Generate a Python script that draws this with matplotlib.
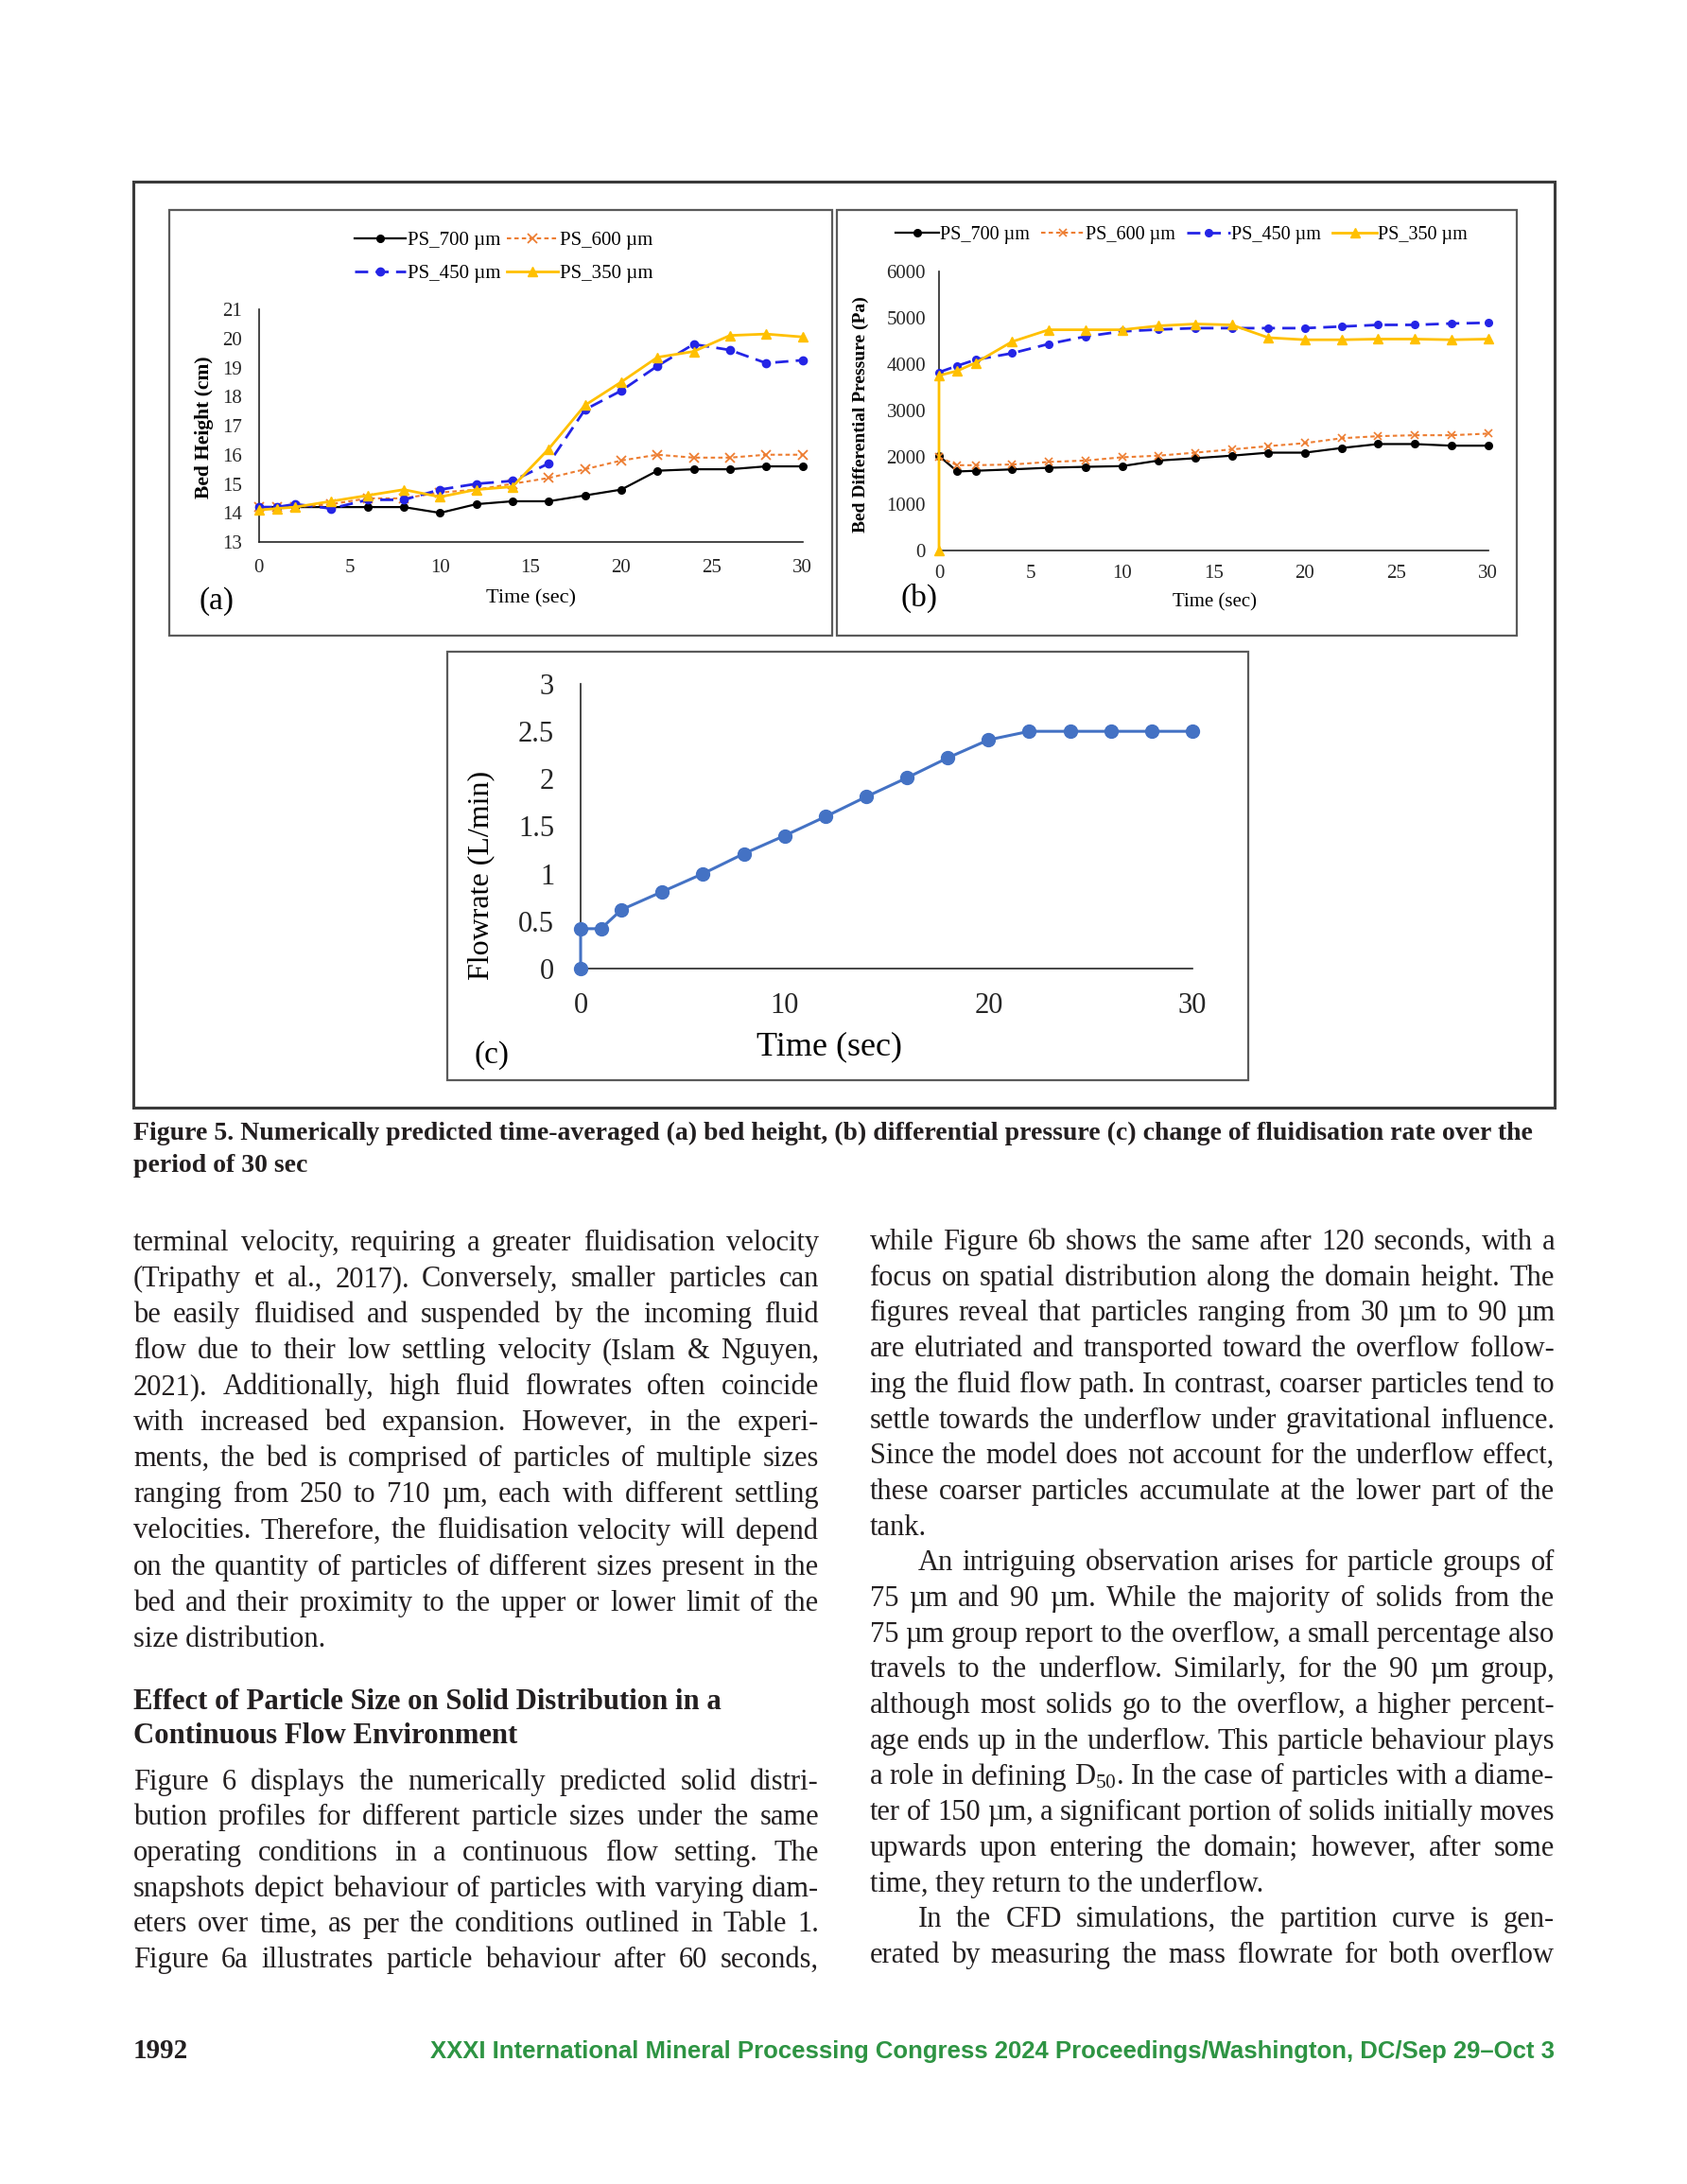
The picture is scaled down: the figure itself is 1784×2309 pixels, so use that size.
import matplotlib
matplotlib.use("Agg")
import matplotlib.pyplot as plt
from matplotlib.patches import Rectangle
from matplotlib import font_manager

W, H = 1784, 2309

# ---- data ----
time_ab = [0, 1, 2, 4, 6, 8, 10, 12, 14, 16, 18, 20, 22, 24, 26, 28, 30]

# (a) bed height, cm
h700 = [14.2, 14.2, 14.2, 14.2, 14.2, 14.2, 14.0, 14.3, 14.4, 14.4, 14.6, 14.8, 15.45, 15.5, 15.5, 15.6, 15.6]
h600 = [14.2, 14.2, 14.2, 14.3, 14.5, 14.5, 14.7, 14.8, 15.0, 15.2, 15.5, 15.8, 16.0, 15.9, 15.9, 16.0, 16.0]
h450 = [14.2, 14.2, 14.3, 14.15, 14.45, 14.45, 14.8, 15.0, 15.1, 15.7, 17.55, 18.2, 19.05, 19.8, 19.6, 19.15, 19.25]
h350 = [14.1, 14.15, 14.2, 14.4, 14.6, 14.8, 14.55, 14.8, 14.9, 16.2, 17.7, 18.5, 19.35, 19.55, 20.1, 20.15, 20.05]

# (b) bed differential pressure, Pa
p700 = [2030, 1695, 1710, 1740, 1775, 1795, 1810, 1930, 1980, 2035, 2100, 2100, 2200, 2285, 2285, 2250, 2250]
p600 = [2000, 1830, 1830, 1845, 1900, 1930, 2000, 2035, 2100, 2170, 2240, 2305, 2410, 2455, 2475, 2475, 2510]
p450 = [3830, 3970, 4100, 4240, 4440, 4600, 4710, 4750, 4780, 4780, 4780, 4780, 4815, 4850, 4850, 4880, 4895]
time_b350 = [0, 0, 1, 2, 4, 6, 8, 10, 12, 14, 16, 18, 20, 22, 24, 26, 28, 30]
p350 = [0, 3760, 3860, 4035, 4490, 4745, 4745, 4745, 4830, 4870, 4850, 4575, 4530, 4530, 4545, 4545, 4530, 4545]

# (c) flowrate, L/min
time_c = [0, 0, 1, 2, 4, 6, 8, 10, 12, 14, 16, 18, 20, 22, 24, 26, 28, 30]
flow = [0, 0.42, 0.42, 0.62, 0.81, 1.0, 1.21, 1.40, 1.60, 1.81, 2.01, 2.22, 2.41, 2.5, 2.5, 2.5, 2.5, 2.5]

series_labels = ["PS_700 µm", "PS_600 µm", "PS_450 µm", "PS_350 µm"]

caption = ["Figure 5. Numerically predicted time-averaged (a) bed height, (b) differential pressure (c) change of fluidisation rate over the",
           "period of 30 sec"]

# (text, justified, indent)
left_col = [
    ("terminal velocity, requiring a greater fluidisation velocity", True, 0),
    ("(Tripathy et al., 2017). Conversely, smaller particles can", True, 0),
    ("be easily fluidised and suspended by the incoming fluid", True, 0),
    ("flow due to their low settling velocity (Islam & Nguyen,", True, 0),
    ("2021). Additionally, high fluid flowrates often coincide", True, 0),
    ("with increased bed expansion. However, in the experi-", True, 0),
    ("ments, the bed is comprised of particles of multiple sizes", True, 0),
    ("ranging from 250 to 710 µm, each with different settling", True, 0),
    ("velocities. Therefore, the fluidisation velocity will depend", True, 0),
    ("on the quantity of particles of different sizes present in the", True, 0),
    ("bed and their proximity to the upper or lower limit of the", True, 0),
    ("size distribution.", False, 0),
]
heading = ["Effect of Particle Size on Solid Distribution in a",
           "Continuous Flow Environment"]
left_col2 = [
    ("Figure 6 displays the numerically predicted solid distri-", True, 0),
    ("bution profiles for different particle sizes under the same", True, 0),
    ("operating conditions in a continuous flow setting. The", True, 0),
    ("snapshots depict behaviour of particles with varying diam-", True, 0),
    ("eters over time, as per the conditions outlined in Table 1.", True, 0),
    ("Figure 6a illustrates particle behaviour after 60 seconds,", True, 0),
]
right_col = [
    ("while Figure 6b shows the same after 120 seconds, with a", True, 0),
    ("focus on spatial distribution along the domain height. The", True, 0),
    ("figures reveal that particles ranging from 30 µm to 90 µm", True, 0),
    ("are elutriated and transported toward the overflow follow-", True, 0),
    ("ing the fluid flow path. In contrast, coarser particles tend to", True, 0),
    ("settle towards the underflow under gravitational influence.", True, 0),
    ("Since the model does not account for the underflow effect,", True, 0),
    ("these coarser particles accumulate at the lower part of the", True, 0),
    ("tank.", False, 0),
    ("An intriguing observation arises for particle groups of", True, 51),
    ("75 µm and 90 µm. While the majority of solids from the", True, 0),
    ("75 µm group report to the overflow, a small percentage also", True, 0),
    ("travels to the underflow. Similarly, for the 90 µm group,", True, 0),
    ("although most solids go to the overflow, a higher percent-", True, 0),
    ("age ends up in the underflow. This particle behaviour plays", True, 0),
    ("a role in defining D$_{50}$. In the case of particles with a diame-", True, 0),
    ("ter of 150 µm, a significant portion of solids initially moves", True, 0),
    ("upwards upon entering the domain; however, after some", True, 0),
    ("time, they return to the underflow.", False, 0),
    ("In the CFD simulations, the partition curve is gen-", True, 51),
    ("erated by measuring the mass flowrate for both overflow", True, 0),
]
footer = "XXXI International Mineral Processing Congress 2024 Proceedings/Washington, DC/Sep 29–Oct 3"

plt.rcParams['font.family'] = ['Liberation Serif', 'DejaVu Serif']
plt.rcParams['mathtext.fontset'] = 'custom'
plt.rcParams['mathtext.rm'] = 'Liberation Serif'
plt.rcParams['mathtext.it'] = 'Liberation Serif:italic'

fig = plt.figure(figsize=(W / 100, H / 100), dpi=100)
renderer = fig.canvas.get_renderer()


def fx(px):
    return px / W


def fy(py):
    return 1 - py / H


def add_ax(x0, y0, x1, y1):
    return fig.add_axes([fx(x0), fy(y1), (x1 - x0) / W, (y1 - y0) / H])


def box(x0, y0, x1, y1, lw, color):
    fig.add_artist(Rectangle((fx(x0), fy(y1)), (x1 - x0) / W, (y1 - y0) / H,
                             transform=fig.transFigure, fill=False, lw=lw, ec=color))


def style(ax, size, xpad, ypad):
    for s in ['top', 'right']:
        ax.spines[s].set_visible(False)
    for s in ['left', 'bottom']:
        ax.spines[s].set_color('#262626')
        ax.spines[s].set_linewidth(1.2)
    ax.tick_params(length=0, labelsize=size, colors='#262626')
    ax.tick_params(axis='x', pad=xpad)
    ax.tick_params(axis='y', pad=ypad)
    ax.set_facecolor('none')


def place_labels(ax, bx, xl, yl, size_x, size_y, weight_y='normal'):
    x0, y0, x1, y1 = bx
    ax.set_xlabel(xl[0], fontsize=size_x, va='center', ha='center')
    ax.xaxis.set_label_coords((xl[1] - x0) / (x1 - x0), (y1 - xl[2]) / (y1 - y0))
    ax.set_ylabel(yl[0], fontsize=size_y, va='center', ha='center', fontweight=weight_y)
    ax.yaxis.set_label_coords((yl[1] - x0) / (x1 - x0), (y1 - yl[2]) / (y1 - y0))


# frames
box(141, 192, 1644, 1171, 2.2, '#3a3a3a')
box(179, 222, 880, 672, 1.6, '#5a5a5a')
box(885, 222, 1604, 672, 1.6, '#5a5a5a')
box(473, 689, 1320, 1142, 1.6, '#5a5a5a')

blue = '#2424E6'
orange = '#ED7D31'
gold = '#FFC000'

# ---- panel (a) ----
bx_a = (273.7, 327, 848.5, 573)
ax_a = add_ax(*bx_a)
l7, = ax_a.plot(time_ab, h700, color='black', lw=1.6, marker='o', ms=5.5, clip_on=False, zorder=3)
l6, = ax_a.plot(time_ab, h600, color=orange, lw=1.5, dashes=(2.2, 1.6), marker='x', ms=6.5, mew=1.3, clip_on=False, zorder=3)
l4, = ax_a.plot(time_ab, h450, color=blue, lw=2.0, dashes=(5, 2.8), marker='o', ms=6, clip_on=False, zorder=4)
l3, = ax_a.plot(time_ab, h350, color=gold, lw=2.0, marker='^', ms=7.5, clip_on=False, zorder=5)
ax_a.set_xlim(0, 30)
ax_a.set_ylim(13, 21)
ax_a.set_xticks(range(0, 31, 5))
ax_a.set_yticks(range(13, 22))
style(ax_a, 15, 13, 13)
place_labels(ax_a, bx_a, ("Time (sec)", 562, 633), ("Bed Height (cm)", 216, 452), 16, 15.5, 'bold')
ax_a.legend([l7, l4, l6, l3], [series_labels[0], series_labels[2], series_labels[1], series_labels[3]],
            ncol=2, loc='center', bbox_to_anchor=(fx(533), fy(272)), bbox_transform=fig.transFigure,
            frameon=False, fontsize=15, handlelength=2.6, handletextpad=0.1, columnspacing=0.3,
            labelspacing=0.75, borderaxespad=0)
fig.text(fx(229), fy(636), "(a)", fontsize=24, ha='center', va='center')

# ---- panel (b) ----
bx_b = (993, 287, 1573.5, 581.7)
ax_b = add_ax(*bx_b)
m7, = ax_b.plot(time_ab, p700, color='black', lw=1.6, marker='o', ms=5.5, clip_on=False, zorder=3)
m6, = ax_b.plot(time_ab, p600, color=orange, lw=1.5, dashes=(2.2, 1.6), marker='x', ms=6, mew=1.2, clip_on=False, zorder=3)
m4, = ax_b.plot(time_ab, p450, color=blue, lw=2.0, dashes=(5, 2.8), marker='o', ms=5.5, clip_on=False, zorder=4)
m3, = ax_b.plot(time_b350, p350, color=gold, lw=2.0, marker='^', ms=7, clip_on=False, zorder=5)
ax_b.set_xlim(0, 30)
ax_b.set_ylim(0, 6000)
ax_b.set_xticks(range(0, 31, 5))
ax_b.set_yticks(range(0, 6001, 1000))
style(ax_b, 15, 11, 10)
place_labels(ax_b, bx_b, ("Time (sec)", 1284, 637), ("Bed Differential Pressure (Pa)", 910, 438), 15, 14, 'bold')
ax_b.legend([m7, m6, m4, m3], series_labels, ncol=4, loc='center',
            bbox_to_anchor=(fx(1249), fy(248)), bbox_transform=fig.transFigure,
            frameon=False, fontsize=14.5, handlelength=2.3, handletextpad=0.05, columnspacing=0.6,
            borderaxespad=0)
fig.text(fx(972), fy(632), "(b)", fontsize=24, ha='center', va='center')

# ---- panel (c) ----
bx_c = (614, 723, 1261, 1024)
ax_c = add_ax(*bx_c)
ax_c.plot(time_c, flow, color='#4472C4', lw=2.2, marker='o', ms=10, clip_on=False, zorder=3)
ax_c.set_xlim(0, 30)
ax_c.set_ylim(0, 3)
ax_c.set_xticks([0, 10, 20, 30])
ax_c.set_yticks([0, 0.5, 1, 1.5, 2, 2.5, 3])
ax_c.set_yticklabels(["0", "0.5", "1", "1.5", "2", "2.5", "3"])
style(ax_c, 22, 18, 20)
place_labels(ax_c, bx_c, ("Time (sec)", 877, 1107), ("Flowrate (L/min)", 509, 925), 26, 23)
fig.text(fx(520), fy(1116), "(c)", fontsize=24, ha='center', va='center')


# ---- text helpers ----
def width_of(s, **kw):
    t = fig.text(0, 0, s, **kw)
    w = t.get_window_extent(renderer).width
    t.remove()
    return w


def fit_size(s, target, base=20, **kw):
    return base * target / width_of(s, fontsize=base, **kw)


def draw_lines(lines, x0, x1, y0, dy, size, **kw):
    for i, (txt, just, indent) in enumerate(lines):
        y = y0 + i * dy
        xs = x0 + indent
        if not just:
            fig.text(fx(xs), fy(y), txt, fontsize=size, va='baseline', ha='left', color='#231f20', **kw)
            continue
        words = txt.split(' ')
        ws = [width_of(w, fontsize=size, **kw) for w in words]
        gap = (x1 - xs - sum(ws)) / (len(words) - 1)
        x = xs
        for w, wd in zip(words, ws):
            fig.text(fx(x), fy(y), w, fontsize=size, va='baseline', ha='left', color='#231f20', **kw)
            x += wd + gap


# body font size: largest that lets every justified line fit its column
all_just = [t for t, j, _ in left_col + left_col2 + right_col if j]
sp = width_of("a a", fontsize=20) - width_of("aa", fontsize=20)
nat = max(sum(width_of(w, fontsize=20) for w in t.split(' ')) + sp * 0.75 * (len(t.split(' ')) - 1) for t in all_just)
body_size = min(22, 20 * 722 / nat)

cap_size = fit_size(caption[0], 1478, weight='bold')
fig.text(fx(141), fy(1205), caption[0], fontsize=cap_size, fontweight='bold', va='baseline', color='#231f20')
fig.text(fx(141), fy(1239), caption[1], fontsize=cap_size, fontweight='bold', va='baseline', color='#231f20')

draw_lines(left_col, 141, 866, 1321.7, 38.1, body_size)
head_size = fit_size(heading[0], 622, weight='bold')
for i, t in enumerate(heading):
    fig.text(fx(141), fy(1806.7 + i * 36.6), t, fontsize=head_size, fontweight='bold', va='baseline', color='#231f20')
draw_lines(left_col2, 141, 866, 1891.7, 37.7, body_size)
draw_lines(right_col, 919.5, 1644, 1321, 37.7, body_size)

# footer
names = {f.name for f in font_manager.fontManager.ttflist}
foot_family = 'Liberation Sans Narrow' if 'Liberation Sans Narrow' in names else 'Liberation Sans'
foot_size = fit_size(footer, 1191, family=foot_family, weight='bold')
fig.text(fx(1644), fy(2176), footer, fontsize=foot_size, family=foot_family, fontweight='bold',
         color='#2E9443', ha='right', va='baseline')
fig.text(fx(141), fy(2176), "1992", fontsize=21, fontweight='bold', va='baseline', color='#231f20')

fig.savefig("out.png", dpi=100, facecolor='white')
